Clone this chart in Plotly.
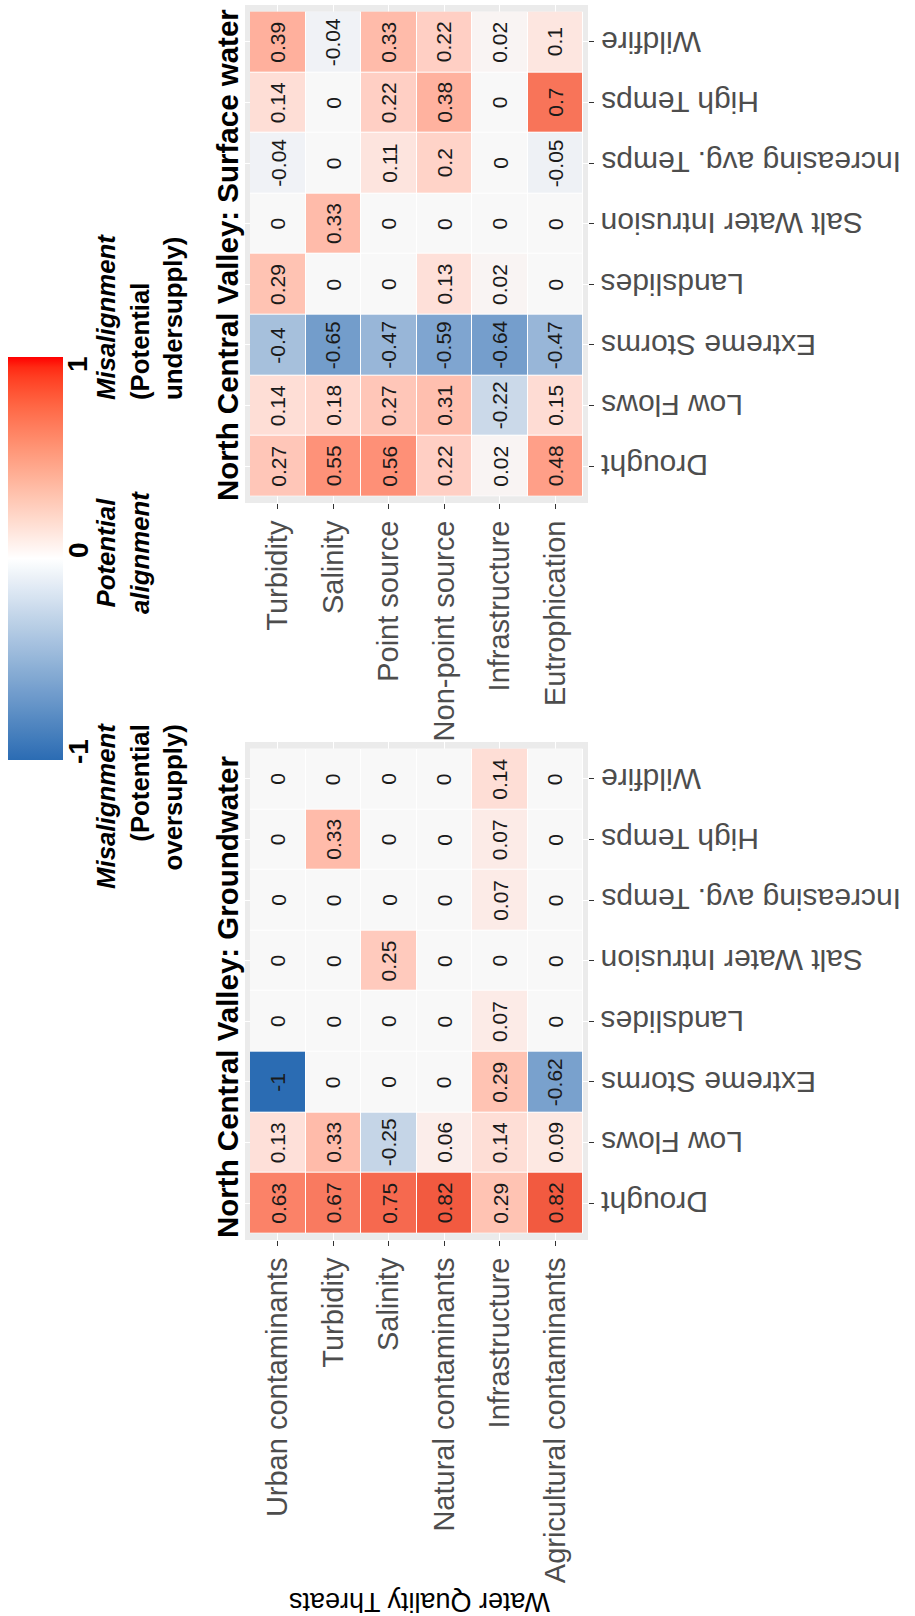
import numpy as np
import plotly.graph_objects as go

# ---------------- data ----------------
climate_threats = ["Wildfire", "High Temps", "Increasing avg. Temps", "Salt Water Intrusion",
                   "Landslides", "Extreme Storms", "Low Flows", "Drought"]

sw_threats = ["Turbidity", "Salinity", "Point source", "Non-point source",
              "Infrastructure", "Eutrophication"]
gw_threats = ["Urban contaminants", "Turbidity", "Salinity", "Natural contaminants",
              "Infrastructure", "Agricultural contaminants"]

# rows follow climate_threats, columns follow the threat lists
sw_values = [
    [0.39, -0.04, 0.33, 0.22, 0.02, 0.1],
    [0.14, 0, 0.22, 0.38, 0, 0.7],
    [-0.04, 0, 0.11, 0.2, 0, -0.05],
    [0, 0.33, 0, 0, 0, 0],
    [0.29, 0, 0, 0.13, 0.02, 0],
    [-0.4, -0.65, -0.47, -0.59, -0.64, -0.47],
    [0.14, 0.18, 0.27, 0.31, -0.22, 0.15],
    [0.27, 0.55, 0.56, 0.22, 0.02, 0.48],
]
gw_values = [
    [0, 0, 0, 0, 0.14, 0],
    [0, 0.33, 0, 0, 0.07, 0],
    [0, 0, 0, 0, 0.07, 0],
    [0, 0, 0.25, 0, 0, 0],
    [0, 0, 0, 0, 0.07, 0],
    [-1, 0, 0, 0, 0.29, -0.62],
    [0.13, 0.33, -0.25, 0.06, 0.14, 0.09],
    [0.63, 0.67, 0.75, 0.82, 0.29, 0.82],
]

sw_title = "North Central Valley: Surface water"
gw_title = "North Central Valley: Groundwater"
axis_title = "Water Quality Threats"
legend_ticks = [1, 0, -1]
legend_labels = ["<i>Misalignment</i><br>(Potential<br>undersupply)",
                 "<i>Potential</i><br><i>alignment</i>",
                 "<i>Misalignment</i><br>(Potential<br>oversupply)"]

# ---------------- styling ----------------
W, H = 915, 1616
FONT = "Liberation Sans, Arial, Helvetica, sans-serif"
CELL_LOW, CELL_MID, CELL_HIGH = "#2B6CB3", "#F8F8F8", "#E72619"
BAR_LOW, BAR_MID, BAR_HIGH = "#2B6CB3", "#FFFFFF", "#FF0000"


def px(x):
    return x / W


def py(y):
    return 1 - y / H


M = np.array([[0.4124564, 0.3575761, 0.1804375],
              [0.2126729, 0.7151522, 0.0721750],
              [0.0193339, 0.1191920, 0.9503041]])
WHITE = np.array([0.95047, 1.0, 1.08883])


def hex_to_rgb(h):
    return np.array([int(h[i:i + 2], 16) for i in (1, 3, 5)], dtype=float)


def rgb_to_hex(rgb):
    rgb = np.clip(np.round(rgb), 0, 255).astype(int)
    return "#%02X%02X%02X" % tuple(rgb)


def hex_to_lab(h):
    rgb = hex_to_rgb(h) / 255.0
    c = np.where(rgb <= 0.04045, rgb / 12.92, ((rgb + 0.055) / 1.055) ** 2.4)
    t = (M @ c) / WHITE
    d = 6 / 29
    f = np.where(t > d ** 3, np.cbrt(t), t / (3 * d * d) + 4 / 29)
    return np.array([116 * f[1] - 16, 500 * (f[0] - f[1]), 200 * (f[1] - f[2])])


def lab_to_hex(lab):
    L, a, b = lab
    fy = (L + 16) / 116
    f = np.array([fy + a / 500, fy, fy - b / 200])
    d = 6 / 29
    t = np.where(f > d, f ** 3, 3 * d * d * (f - 4 / 29))
    c = np.linalg.solve(M, t * WHITE)
    c = np.clip(c, 0, 1)
    rgb = np.where(c <= 0.0031308, 12.92 * c, 1.055 * c ** (1 / 2.4) - 0.055)
    return rgb_to_hex(rgb * 255)


def make_scale(low, mid, high):
    r_low, r_mid = hex_to_rgb(low), hex_to_rgb(mid)
    l_mid, l_high = hex_to_lab(mid), hex_to_lab(high)
    out = []
    for t in np.linspace(0, 1, 41):
        v = -1 + 2 * t
        if v < 0:
            col = rgb_to_hex(r_mid + (r_low - r_mid) * (-v))
        else:
            col = lab_to_hex(l_mid + (l_high - l_mid) * v)
        out.append([float(t), col])
    return out


cell_scale = make_scale(CELL_LOW, CELL_MID, CELL_HIGH)
bar_scale = make_scale(BAR_LOW, BAR_MID, BAR_HIGH)

fig = go.Figure()

panels = [
    dict(cols=sw_threats, vals=sw_values, xa="x", ya="y", top=5, bottom=503, title=sw_title),
    dict(cols=gw_threats, vals=gw_values, xa="x2", ya="y2", top=742, bottom=1240, title=gw_title),
]

annotations = []
shapes = []
for p in panels:
    fig.add_trace(go.Heatmap(
        z=p["vals"], x=p["cols"], y=climate_threats,
        coloraxis="coloraxis", xgap=1, ygap=1,
        xaxis=p["xa"], yaxis=p["ya"], hoverinfo="skip",
    ))
    # value labels (rotated like the reference)
    for r, row in enumerate(p["vals"]):
        for c, v in enumerate(row):
            annotations.append(dict(
                x=c, y=r, xref=p["xa"], yref=p["ya"], text=f"{v:g}",
                showarrow=False, textangle=-90,
                font=dict(family=FONT, size=21, color="#1A1A1A"),
            ))
    # row labels (upside down, right of panel)
    for r, lab in enumerate(climate_threats):
        annotations.append(dict(
            x=px(599), xref="paper", xanchor="left",
            y=r, yref=p["ya"], yanchor="middle",
            text=lab, showarrow=False, textangle=180,
            font=dict(family=FONT, size=30, color="#4D4D4D"),
        ))
    # panel title
    annotations.append(dict(
        x=px(227), xref="paper", xanchor="center",
        y=py(p["bottom"]), yref="paper", yanchor="bottom",
        text="<b>" + p["title"] + "</b>", showarrow=False, textangle=-90,
        font=dict(family=FONT, size=29.5, color="#000000"),
    ))
    # white backing so cell gaps look white
    shapes.append(dict(
        type="rect", xref=p["xa"], yref=p["ya"],
        x0=-0.5, x1=len(p["cols"]) - 0.5, y0=-0.5, y1=len(climate_threats) - 0.5,
        fillcolor="white", line=dict(width=0), layer="between",
    ))

# invisible carrier trace for the legend colour bar
fig.add_trace(go.Scatter(
    x=[None], y=[None], mode="markers", xaxis="x", yaxis="y", hoverinfo="skip",
    marker=dict(color=[0], coloraxis="coloraxis2"), showlegend=False,
))

# y-axis title (upside down at bottom)
annotations.append(dict(
    x=px(420), xref="paper", xanchor="center", y=py(1602), yref="paper", yanchor="middle",
    text=axis_title, showarrow=False, textangle=180,
    font=dict(family=FONT, size=27, color="#000000"),
))

# legend tick values
for val, ypos in zip(legend_ticks, [364, 550, 752]):
    annotations.append(dict(
        x=px(78), xref="paper", xanchor="center", y=py(ypos), yref="paper", yanchor="middle",
        text="<b>%d</b>" % val, showarrow=False, textangle=-90,
        font=dict(family=FONT, size=28, color="#000000"),
    ))
# legend descriptions
annotations.append(dict(
    x=px(139), xref="paper", xanchor="center", y=py(402), yref="paper", yanchor="bottom",
    text="<b>" + legend_labels[0] + "</b>", showarrow=False, textangle=-90, align="left",
    font=dict(family=FONT, size=25.8, color="#000000"),
))
annotations.append(dict(
    x=px(123), xref="paper", xanchor="center", y=py(553), yref="paper", yanchor="middle",
    text="<b>" + legend_labels[1] + "</b>", showarrow=False, textangle=-90, align="center",
    font=dict(family=FONT, size=25.8, color="#000000"),
))
annotations.append(dict(
    x=px(139), xref="paper", xanchor="center", y=py(721), yref="paper", yanchor="top",
    text="<b>" + legend_labels[2] + "</b>", showarrow=False, textangle=-90, align="right",
    font=dict(family=FONT, size=25.8, color="#000000"),
))

axis_common_x = dict(
    type="category", range=[-0.59, 5.59], showgrid=True, gridcolor="white", gridwidth=1.2,
    zeroline=False, showline=False, ticks="outside", ticklen=5, tickwidth=1, tickcolor="#333333",
    tickangle=-90, tickfont=dict(family=FONT, size=29, color="#4D4D4D"),
)
axis_common_y = dict(
    type="category", range=[7.61, -0.61], showgrid=True, gridcolor="white", gridwidth=1.2,
    zeroline=False, showline=False, ticks="outside", ticklen=5, tickwidth=1, tickcolor="#333333",
    showticklabels=False, side="right",
)

layout = dict(
    width=W, height=H, autosize=False,
    margin=dict(l=0, r=0, t=0, b=0),
    paper_bgcolor="white", plot_bgcolor="#EBEBEB",
    font=dict(family=FONT),
    showlegend=False,
    xaxis=dict(domain=[px(245), px(588)], anchor="y", **axis_common_x),
    yaxis=dict(domain=[py(503), py(5)], anchor="x", **axis_common_y),
    xaxis2=dict(domain=[px(245), px(588)], anchor="y2", **axis_common_x),
    yaxis2=dict(domain=[py(1240), py(742)], anchor="x2", **axis_common_y),
    coloraxis=dict(cmin=-1, cmax=1, colorscale=cell_scale, showscale=False),
    coloraxis2=dict(
        cmin=-1, cmax=1, colorscale=bar_scale, showscale=True,
        colorbar=dict(
            x=px(8), xanchor="left", xref="paper", xpad=0, ypad=0,
            y=py(357), yanchor="top", yref="paper",
            len=(760 - 357) / H, lenmode="fraction",
            thickness=55, thicknessmode="pixels",
            showticklabels=False, ticks="", outlinewidth=0, borderwidth=0,
        ),
    ),
    annotations=annotations,
)

try:
    fig.update_layout(shapes=shapes, **layout)
except ValueError:
    for s in shapes:
        s["layer"] = "below"
    fig.update_layout(shapes=shapes, **layout)

fig.write_html("out.html",
               config={"displayModeBar": False},
               post_script="document.body.style.margin='0';document.body.style.overflow='hidden';")
